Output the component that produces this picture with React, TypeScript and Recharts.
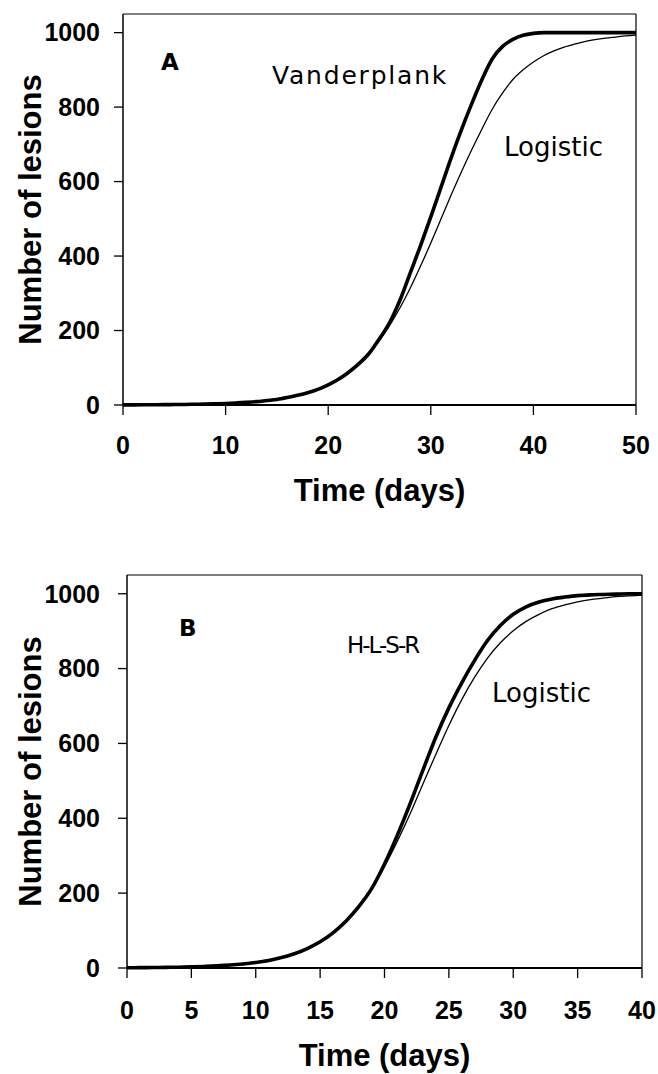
import { LineChart, Line, XAxis, YAxis, ReferenceLine } from 'recharts';

// Panel A: days 0..50
const daysA = [
  0, 1, 2, 3, 4, 5, 6, 7, 8, 9, 10, 11, 12, 13, 14, 15, 16, 17, 18, 19, 20, 21, 22, 23, 24, 25,
  26, 27, 28, 29, 30, 31, 32, 33, 34, 35, 36, 37, 38, 39, 40, 41, 42, 43, 44, 45, 46, 47, 48, 49, 50,
];
const logisticA = [
  0.3, 0.4, 0.5, 0.7, 0.9, 1.2, 1.5, 2, 2.5, 3.3, 4.2, 5.5, 7, 9, 12, 15, 20, 26, 33, 42, 54, 69, 88, 111, 139, 174,
  214, 261, 314, 373, 435, 500, 565, 627, 686, 742, 795, 838, 874, 900, 921, 938, 951, 961, 969, 976, 981, 985, 988, 991, 993,
];
const vanderplankA = [
  0.3, 0.4, 0.5, 0.7, 0.9, 1.2, 1.5, 2, 2.5, 3.3, 4.2, 5.5, 7, 9, 12, 15, 20, 26, 33, 42, 54, 69, 88, 111, 139, 178,
  222, 282, 355, 428, 505, 585, 665, 740, 810, 875, 930, 963, 982, 993, 998, 1000, 1000, 1000, 1000, 1000, 1000, 1000, 1000, 1000, 1000,
];
const ticksA = [0, 10, 20, 30, 40, 50];

// Panel B: days 0..40
const daysB = [
  0, 1, 2, 3, 4, 5, 6, 7, 8, 9, 10, 11, 12, 13, 14, 15, 16, 17, 18, 19, 20,
  21, 22, 23, 24, 25, 26, 27, 28, 29, 30, 31, 32, 33, 34, 35, 36, 37, 38, 39, 40,
];
const logisticB = [
  0.6, 0.9, 1.2, 1.6, 2.2, 3, 4.2, 5.8, 7.9, 10.9, 14.9, 20, 28, 38, 52, 70, 94, 125, 164, 212, 271,
  339, 413, 493, 572, 648, 717, 777, 828, 869, 901, 926, 945, 960, 970, 978, 984, 988, 992, 994, 996,
];
const hlsrB = [
  0.6, 0.9, 1.2, 1.6, 2.2, 3, 4.2, 5.8, 7.9, 10.9, 14.9, 20, 28, 38, 52, 70, 94, 125, 164, 212, 278,
  355, 440, 530, 618, 695, 762, 822, 875, 915, 945, 965, 978, 986, 991, 995, 997, 998, 999, 1000, 1000,
];
const ticksB = [0, 5, 10, 15, 20, 25, 30, 35, 40];

const yTicks = [0, 200, 400, 600, 800, 1000];

const FONT = '"Liberation Sans", Arial, sans-serif';
const NOTE_FONT = '"DejaVu Sans", sans-serif';

const tickStyle = { fill: '#000', fontSize: 25, fontWeight: 700, fontFamily: FONT };
const titleStyle = { fill: '#000', fontSize: 31, fontWeight: 700, fontFamily: FONT };

function Note({ left, top, size = 23, bold = false, spacing = 0, children }: any) {
  return (
    <div
      style={{
        position: 'absolute',
        left,
        top,
        fontFamily: NOTE_FONT,
        fontSize: size,
        fontWeight: bold ? 700 : 400,
        letterSpacing: spacing,
        lineHeight: 1,
        color: '#000',
        whiteSpace: 'nowrap',
      }}
    >
      {children}
    </div>
  );
}

function Panel({ data, xMax, ticks, thickKey, width, height, margin, yWidth, xHeight, xTickMargin, yTickMargin, titleOffset }: any) {
  return (
    <LineChart width={width} height={height} data={data} margin={margin}>
      <XAxis
        dataKey="t"
        type="number"
        domain={[0, xMax]}
        ticks={ticks}
        height={xHeight}
        tickSize={10}
        tickMargin={xTickMargin}
        tick={tickStyle}
        axisLine={{ stroke: '#000', strokeWidth: 1.8 }}
        tickLine={{ stroke: '#000', strokeWidth: 1.3 }}
        label={{ value: 'Time (days)', position: 'insideBottom', offset: titleOffset, style: titleStyle }}
      />
      <YAxis
        type="number"
        domain={[0, 1050]}
        ticks={yTicks}
        width={yWidth}
        tickSize={9}
        tickMargin={yTickMargin}
        tick={tickStyle}
        axisLine={{ stroke: '#000', strokeWidth: 1.5 }}
        tickLine={{ stroke: '#000', strokeWidth: 1.3 }}
        label={{
          value: 'Number of lesions',
          angle: -90,
          position: 'insideLeft',
          offset: 30,
          textAnchor: 'middle',
          style: titleStyle,
        }}
      />
      <ReferenceLine y={1050} stroke="#000" strokeWidth={1.2} ifOverflow="visible" />
      <ReferenceLine x={xMax} stroke="#000" strokeWidth={1.2} ifOverflow="visible" />
      <Line dataKey="logistic" type="monotone" stroke="#000" strokeWidth={1.3} dot={false} activeDot={false} isAnimationActive={false} />
      <Line dataKey={thickKey} type="monotone" stroke="#000" strokeWidth={3.6} dot={false} activeDot={false} isAnimationActive={false} />
    </LineChart>
  );
}

export default function App() {
  const dataA = daysA.map((t, i) => ({ t, logistic: logisticA[i], vanderplank: vanderplankA[i] }));
  const dataB = daysB.map((t, i) => ({ t, logistic: logisticB[i], hlsr: hlsrB[i] }));

  return (
    <div style={{ position: 'absolute', left: 0, top: 0, width: 658, height: 1074, background: '#fff' }}>
      <div style={{ position: 'absolute', left: 0, top: 0 }}>
        <Panel
          data={dataA}
          xMax={50}
          ticks={ticksA}
          thickKey="vanderplank"
          width={658}
          height={520}
          margin={{ top: 14, right: 22, bottom: 0, left: 0 }}
          yWidth={123}
          xHeight={115}
          xTickMargin={21}
          yTickMargin={14}
          titleOffset={19}
        />
      </div>
      <Note left={161} top={51} size={23} bold>A</Note>
      <Note left={272} top={63} size={25} spacing={1.8}>Vanderplank</Note>
      <Note left={504} top={134} size={26}>Logistic</Note>

      <div style={{ position: 'absolute', left: 0, top: 540 }}>
        <Panel
          data={dataB}
          xMax={40}
          ticks={ticksB}
          thickKey="hlsr"
          width={658}
          height={534}
          margin={{ top: 35, right: 16, bottom: 0, left: 0 }}
          yWidth={127}
          xHeight={106}
          xTickMargin={23}
          yTickMargin={18}
          titleOffset={8}
        />
      </div>
      <Note left={179} top={617} size={23} bold>B</Note>
      <Note left={347} top={634} spacing={-2}>H-L-S-R</Note>
      <Note left={492} top={680} size={26}>Logistic</Note>
    </div>
  );
}
